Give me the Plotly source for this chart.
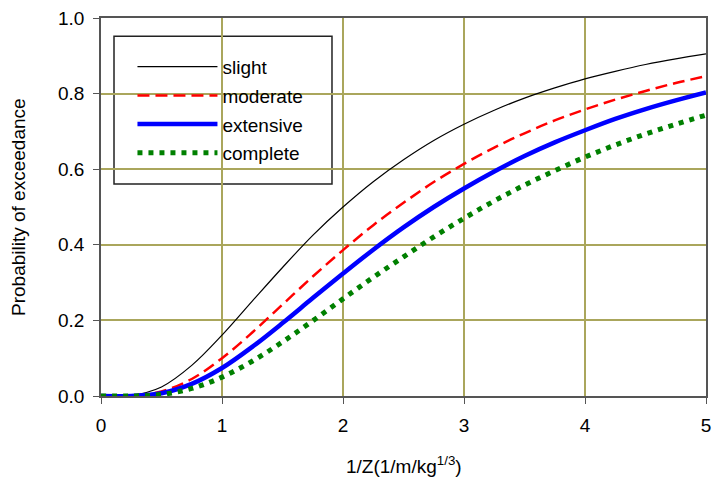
import plotly.graph_objects as go

x_vals = [0, 0.25, 0.5, 0.75, 1, 1.25, 1.5, 1.75, 2, 2.25, 2.5, 2.75, 3, 3.25, 3.5, 3.75, 4, 4.25, 4.5, 4.75, 5]
slight = [0, 0.0015, 0.024, 0.081, 0.161, 0.251, 0.340, 0.425, 0.500, 0.567, 0.625, 0.676, 0.719, 0.756, 0.788, 0.815, 0.839, 0.859, 0.877, 0.892, 0.905]
moderate = [0, 0.0006, 0.012, 0.045, 0.100, 0.168, 0.242, 0.316, 0.386, 0.452, 0.511, 0.566, 0.614, 0.657, 0.695, 0.729, 0.758, 0.784, 0.807, 0.828, 0.846]
extensive = [0, 0.0003, 0.0074, 0.032, 0.074, 0.130, 0.193, 0.259, 0.324, 0.387, 0.446, 0.500, 0.549, 0.594, 0.635, 0.671, 0.703, 0.733, 0.759, 0.782, 0.803]
complete = [0, 0.0001, 0.004, 0.020, 0.050, 0.092, 0.143, 0.199, 0.257, 0.314, 0.368, 0.421, 0.470, 0.516, 0.558, 0.596, 0.632, 0.664, 0.693, 0.719, 0.743]

x_ticks = [0, 1, 2, 3, 4, 5]
y_ticks = [0.0, 0.2, 0.4, 0.6, 0.8, 1.0]
y_tick_labels = ["0.0", "0.2", "0.4", "0.6", "0.8", "1.0"]

FONT = "Liberation Sans, Arial, sans-serif"
GRID = "#aaa65c"
FS = 19

fig = go.Figure()
fig.add_trace(go.Scatter(x=x_vals, y=slight, name="slight", mode="lines", legendgroup="a",
                         line=dict(color="black", width=1.2, shape="spline")))
fig.add_trace(go.Scatter(x=x_vals, y=moderate, name="moderate", mode="lines", legendgroup="b",
                         line=dict(color="#ff0000", width=2.5, dash="12px,6px", shape="spline")))
fig.add_trace(go.Scatter(x=x_vals, y=extensive, name="extensive", mode="lines", legendgroup="c",
                         line=dict(color="#0000ff", width=4.5, shape="spline")))
fig.add_trace(go.Scatter(x=x_vals, y=complete, name="complete", mode="lines", legendgroup="d",
                         line=dict(color="#008000", width=5, dash="5px,6px", shape="spline")))

# legend frame
fig.add_shape(type="rect", xref="paper", yref="paper", x0=0.0215, x1=0.3818, y0=0.561, y1=0.952,
              fillcolor="white", line=dict(color="#222", width=1.5), layer="between")

fig.update_layout(
    width=714, height=494,
    margin=dict(l=101, r=8, t=18, b=98, autoexpand=False),
    paper_bgcolor="white", plot_bgcolor="white",
    font=dict(family=FONT, size=FS, color="black"),
    showlegend=True,
    legend=dict(x=0.052, y=0.921, xanchor="left", yanchor="top",
                bgcolor="rgba(0,0,0,0)", borderwidth=0,
                font=dict(size=FS, family=FONT), traceorder="grouped",
                itemwidth=80, tracegroupgap=1),
    xaxis=dict(range=[0, 5], tickvals=x_ticks, ticks="outside", ticklen=6,
               tickcolor="#555", showgrid=True, gridcolor=GRID, gridwidth=1.5,
               showline=True, linecolor="#555", linewidth=1.5, mirror=True,
               zeroline=False, automargin=False, ticklabelstandoff=5,
               ticklabeloverflow="allow", tickfont=dict(size=FS)),
    yaxis=dict(range=[0, 1], tickvals=y_ticks, ticktext=y_tick_labels, ticks="outside",
               ticklen=6, tickcolor="#555", showgrid=True, gridcolor=GRID, gridwidth=1.5,
               showline=True, linecolor="#555", linewidth=1.5, mirror=True,
               zeroline=True, zerolinecolor="black", zerolinewidth=1.5, automargin=False,
               ticklabelstandoff=5, ticklabeloverflow="allow", tickfont=dict(size=FS)),
    annotations=[
        dict(text="1/Z(1/m/kg<sup>1/3</sup>)", xref="paper", yref="paper", x=0.5, y=0,
             yshift=-69, xanchor="center", yanchor="middle", showarrow=False,
             font=dict(size=FS, family=FONT)),
        dict(text="Probability of exceedance", xref="paper", yref="paper", x=0, y=0.5,
             xshift=-83, xanchor="center", yanchor="middle", textangle=-90, showarrow=False,
             font=dict(size=FS, family=FONT)),
    ],
)

# remove the browser's default 8px body margin so the figure fills the window exactly
fig.write_html("out.html", config={"displayModeBar": False},
               post_script="document.body.style.margin='0';document.body.style.overflow='hidden';")
